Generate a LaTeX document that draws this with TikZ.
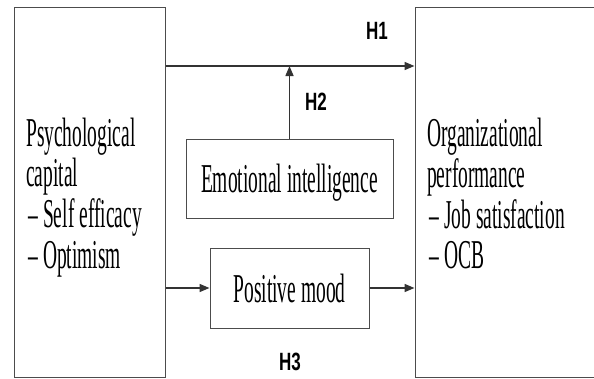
\documentclass[tikz,border=0pt]{standalone}
\usepackage{fontspec}
\setmainfont{Liberation Serif}
\newfontfamily\hfont{Liberation Sans}
\usetikzlibrary{arrows.meta}
\tikzset{
  box/.style={draw=black!70, line width=1pt, inner sep=0pt},
  arr/.style={draw=black!80, line width=1.5pt, -{Triangle[length=10pt,width=8pt]}},
  txt/.style={inner sep=0pt, font=\fontsize{41}{40.5}\selectfont},
  hlab/.style={inner sep=0pt, font=\hfont\bfseries\fontsize{25}{27}\selectfont}
}
\newcommand{\sq}[1]{\scalebox{0.475}[1]{#1}}
\newcommand{\hq}[1]{\scalebox{0.68}[1]{#1}}
\begin{document}
\begin{tikzpicture}[x=1pt,y=-1pt]
\useasboundingbox (0,0) rectangle (594,378);
\clip (0,0) rectangle (594,378);
% boxes
\node[box, minimum width=151pt, minimum height=370pt] (lb) at (89.5,192) {};
\node[box, minimum width=205pt, minimum height=370pt] (rb) at (517.5,192) {};
\node[box, minimum width=207pt, minimum height=79pt] (ei) at (289.5,178.5) {};
\node[box, minimum width=159pt, minimum height=80pt] (pm) at (289.5,288) {};
% texts
\node[txt, anchor=base west] (lbt) at (26,146) {\sq{\begin{tabular}[t]{@{}l@{}}Psychological\\capital\\\hspace{0.12em}– Self efficacy\\\hspace{0.12em}– Optimism\end{tabular}}};
\node[txt, anchor=base west] (rbt) at (427,146) {\sq{\begin{tabular}[t]{@{}l@{}}Organizational\\performance\\\hspace{0.12em}– Job satisfaction\\\hspace{0.12em}– OCB\end{tabular}}};
\node[txt, anchor=base] (eit) at (289.5,192) {\sq{Emotional intelligence}};
\node[txt, anchor=base] (pmt) at (289.5,302) {\sq{Positive mood}};
% labels
\node[hlab] (h1) at (377,31) {\hq{H1}};
\node[hlab] (h2) at (316,102) {\hq{H2}};
\node[hlab] (h3) at (290,362) {\hq{H3}};
% connectors
\coordinate (h1y) at (0,66);
\draw[arr] (lb.east |- h1y) -- (rb.west |- h1y);
\draw[arr] (ei.north) -- (ei.north |- h1y);
\draw[arr] (lb.east |- pm.west) -- (pm.west);
\draw[arr] (pm.east) -- (rb.west |- pm.east);
\end{tikzpicture}
\end{document}
